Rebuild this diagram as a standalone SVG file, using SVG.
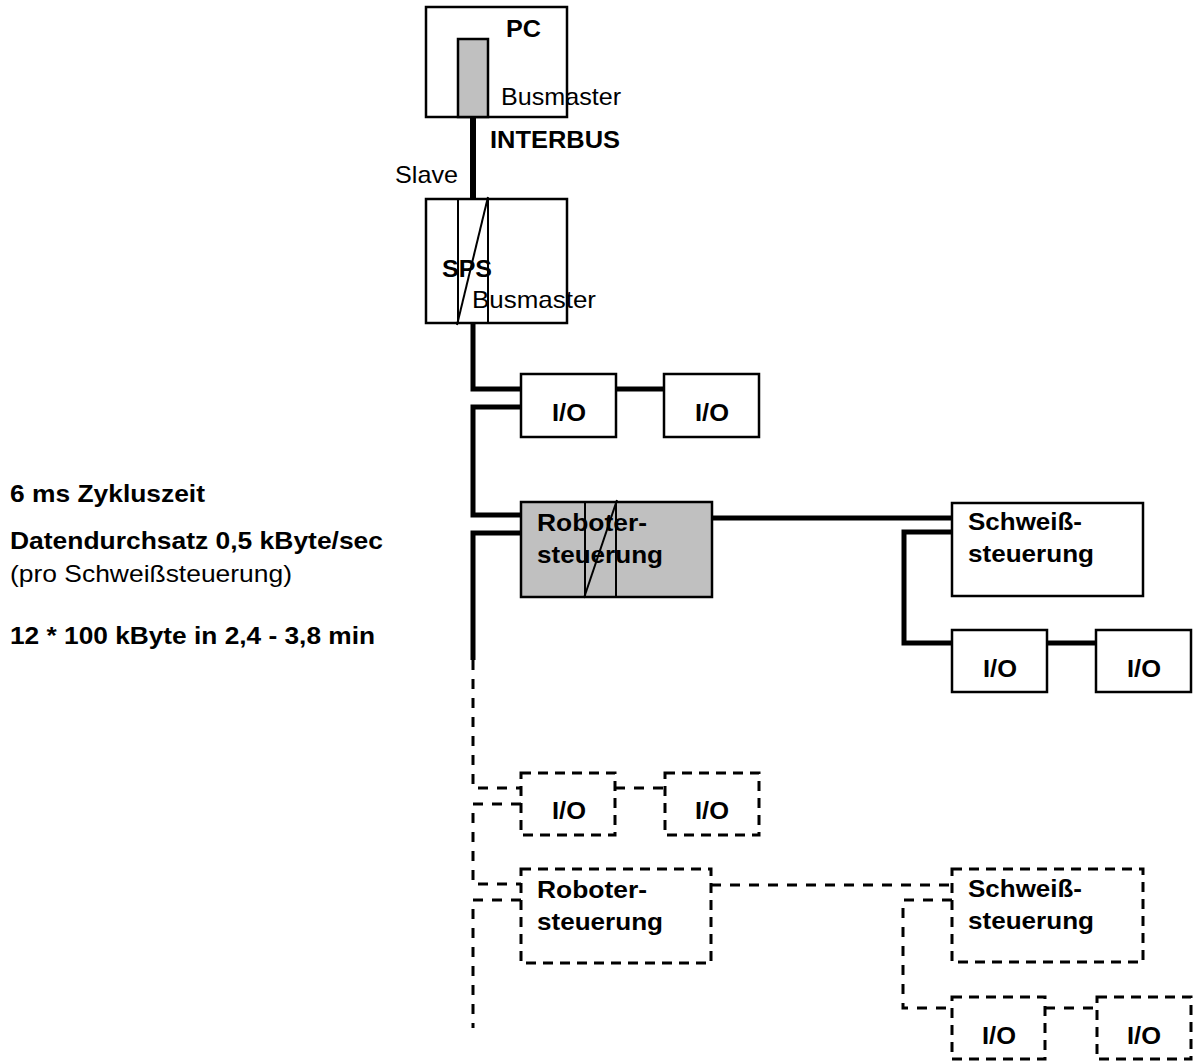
<svg xmlns="http://www.w3.org/2000/svg" width="1193" height="1064" viewBox="0 0 1193 1064">
<style>
text{font-family:"Liberation Sans",Arial,sans-serif;font-size:24px;fill:#000}
.b{font-weight:bold}
.m{text-anchor:middle}
.box{fill:#fff;stroke:#000;stroke-width:2.5}
.grey{fill:#c0c0c0;stroke:#000;stroke-width:2.5}
.dbox{fill:none;stroke:#000;stroke-width:3;stroke-dasharray:10 7}
.bus{fill:none;stroke:#000;stroke-width:5}
.dbus{fill:none;stroke:#000;stroke-width:3;stroke-dasharray:10 9}
.thin{fill:none;stroke:#000;stroke-width:2}
</style>
<rect width="1193" height="1064" fill="#fff"/>
<g id="connectors">
<line class="bus" x1="473" y1="117" x2="473" y2="199" style="stroke-width:6"/>
<polyline class="bus" points="473,323 473,389 521,389"/>
<polyline class="bus" points="521,407 473,407 473,515 521,515"/>
<polyline class="bus" points="521,533 473,533 473,660"/>
<line class="bus" x1="616" y1="389" x2="664" y2="389"/>
<line class="bus" x1="712" y1="518" x2="952" y2="518"/>
<polyline class="bus" points="952,532 904,532 904,643 952,643"/>
<line class="bus" x1="1047" y1="643" x2="1096" y2="643"/>
<polyline class="dbus" points="473,660 473,788 521,788"/>
<polyline class="dbus" points="521,804 473,804 473,884 521,884"/>
<polyline class="dbus" points="521,900 473,900 473,1028"/>
<line class="dbus" x1="615" y1="788" x2="665" y2="788"/>
<line class="dbus" x1="711" y1="885" x2="952" y2="885"/>
<polyline class="dbus" points="952,900 903,900 903,1008 952,1008"/>
<line class="dbus" x1="1045" y1="1008" x2="1097" y2="1008"/>
</g>
<g id="pc">
<rect class="box" x="426" y="7" width="141" height="110"/>
<rect class="grey" x="458" y="39" width="30" height="78"/>
<text class="b" x="506" y="37" textLength="35" lengthAdjust="spacingAndGlyphs">PC</text>
<text x="501" y="105" textLength="120" lengthAdjust="spacingAndGlyphs">Busmaster</text>
</g>
<g id="interbus-label"><text class="b" x="490" y="148" textLength="130" lengthAdjust="spacingAndGlyphs">INTERBUS</text></g>
<g id="slave-label"><text x="395" y="183" textLength="63" lengthAdjust="spacingAndGlyphs">Slave</text></g>
<g id="sps">
<rect class="box" x="426" y="199" width="141" height="124"/>
<line class="thin" x1="458" y1="199" x2="458" y2="323"/>
<line class="thin" x1="488" y1="199" x2="488" y2="323"/>
<line class="thin" x1="488" y1="197" x2="457" y2="325"/>
<text class="b" x="442" y="277" textLength="50" lengthAdjust="spacingAndGlyphs">SPS</text>
<text x="472" y="308" textLength="124" lengthAdjust="spacingAndGlyphs">Busmaster</text>
</g>
<g id="io1"><rect class="box" x="521" y="374" width="95" height="63"/><text class="b m" x="569" y="421" textLength="34" lengthAdjust="spacingAndGlyphs">I/O</text></g>
<g id="io2"><rect class="box" x="664" y="374" width="95" height="63"/><text class="b m" x="712" y="421" textLength="34" lengthAdjust="spacingAndGlyphs">I/O</text></g>
<g id="robot">
<rect class="grey" x="521" y="502" width="191" height="95"/>
<line class="thin" x1="585" y1="502" x2="585" y2="597"/>
<line class="thin" x1="616" y1="502" x2="616" y2="597"/>
<line class="thin" x1="617" y1="500" x2="584" y2="598"/>
<text class="b" x="537" y="531" textLength="110" lengthAdjust="spacingAndGlyphs">Roboter-</text>
<text class="b" x="537" y="563" textLength="126" lengthAdjust="spacingAndGlyphs">steuerung</text>
</g>
<g id="schweiss">
<rect class="box" x="952" y="503" width="191" height="93"/>
<text class="b" x="968" y="530" textLength="114" lengthAdjust="spacingAndGlyphs">Schweiß-</text>
<text class="b" x="968" y="562" textLength="126" lengthAdjust="spacingAndGlyphs">steuerung</text>
</g>
<g id="io3"><rect class="box" x="952" y="630" width="95" height="62"/><text class="b m" x="1000" y="677" textLength="34" lengthAdjust="spacingAndGlyphs">I/O</text></g>
<g id="io4"><rect class="box" x="1096" y="630" width="95" height="62"/><text class="b m" x="1144" y="677" textLength="34" lengthAdjust="spacingAndGlyphs">I/O</text></g>
<g id="dio1"><rect class="dbox" x="521" y="773" width="94" height="62"/><text class="b m" x="569" y="819" textLength="34" lengthAdjust="spacingAndGlyphs">I/O</text></g>
<g id="dio2"><rect class="dbox" x="665" y="773" width="94" height="62"/><text class="b m" x="712" y="819" textLength="34" lengthAdjust="spacingAndGlyphs">I/O</text></g>
<g id="drobot">
<rect class="dbox" x="521" y="869" width="190" height="94"/>
<text class="b" x="537" y="898" textLength="110" lengthAdjust="spacingAndGlyphs">Roboter-</text>
<text class="b" x="537" y="930" textLength="126" lengthAdjust="spacingAndGlyphs">steuerung</text>
</g>
<g id="dschweiss">
<rect class="dbox" x="952" y="869" width="191" height="93"/>
<text class="b" x="968" y="897" textLength="114" lengthAdjust="spacingAndGlyphs">Schweiß-</text>
<text class="b" x="968" y="929" textLength="126" lengthAdjust="spacingAndGlyphs">steuerung</text>
</g>
<g id="dio3"><rect class="dbox" x="952" y="997" width="93" height="62"/><text class="b m" x="999" y="1044" textLength="34" lengthAdjust="spacingAndGlyphs">I/O</text></g>
<g id="dio4"><rect class="dbox" x="1097" y="997" width="94" height="62"/><text class="b m" x="1144" y="1044" textLength="34" lengthAdjust="spacingAndGlyphs">I/O</text></g>
<g id="notes">
<text class="b" x="10" y="502" textLength="195" lengthAdjust="spacingAndGlyphs">6 ms Zykluszeit</text>
<text class="b" x="10" y="549" textLength="373" lengthAdjust="spacingAndGlyphs">Datendurchsatz 0,5 kByte/sec</text>
<text x="10" y="582" textLength="282" lengthAdjust="spacingAndGlyphs">(pro Schweißsteuerung)</text>
<text class="b" x="10" y="644" textLength="365" lengthAdjust="spacingAndGlyphs">12 * 100 kByte in 2,4 - 3,8 min</text>
</g>
</svg>
